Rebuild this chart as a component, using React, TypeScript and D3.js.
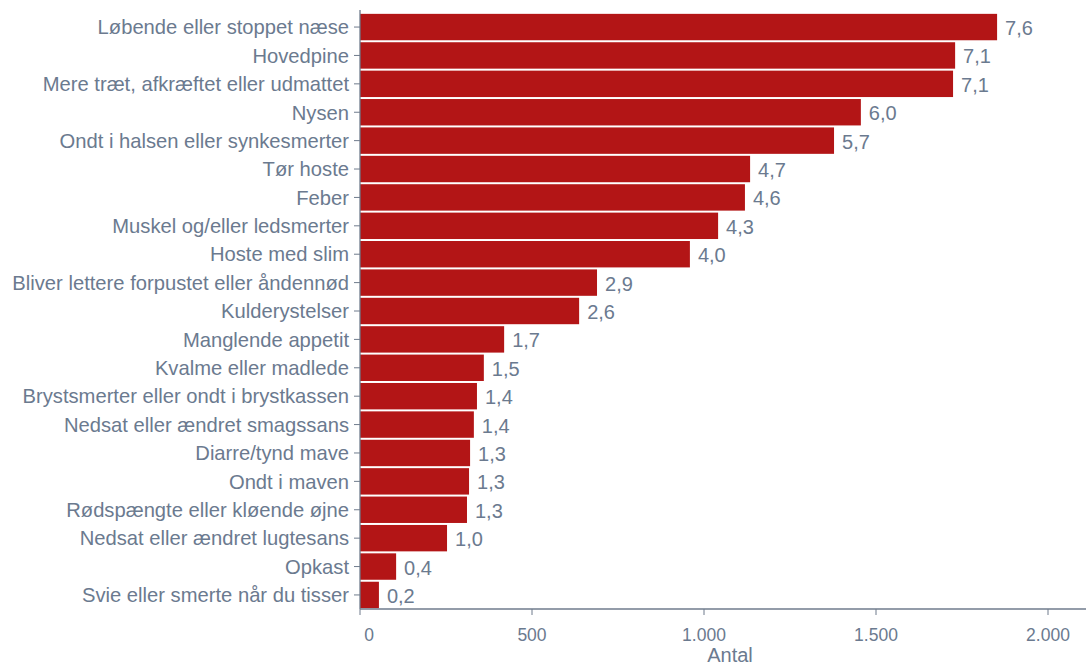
import React from "react";
import * as d3 from "d3";

const categories = [
  "Løbende eller stoppet næse",
  "Hovedpine",
  "Mere træt, afkræftet eller udmattet",
  "Nysen",
  "Ondt i halsen eller synkesmerter",
  "Tør hoste",
  "Feber",
  "Muskel og/eller ledsmerter",
  "Hoste med slim",
  "Bliver lettere forpustet eller åndennød",
  "Kulderystelser",
  "Manglende appetit",
  "Kvalme eller madlede",
  "Brystsmerter eller ondt i brystkassen",
  "Nedsat eller ændret smagssans",
  "Diarre/tynd mave",
  "Ondt i maven",
  "Rødspængte eller kløende øjne",
  "Nedsat eller ændret lugtesans",
  "Opkast",
  "Svie eller smerte når du tisser",
];

const counts = [1852, 1730, 1724, 1456, 1378, 1134, 1119, 1041, 959, 689, 637, 419, 360, 340, 331, 320, 317, 311, 253, 105, 55];
const percents = [7.6, 7.1, 7.1, 6.0, 5.7, 4.7, 4.6, 4.3, 4.0, 2.9, 2.6, 1.7, 1.5, 1.4, 1.4, 1.3, 1.3, 1.3, 1.0, 0.4, 0.2];
const xTicks = [0, 500, 1000, 1500, 2000];
const xTitle = "Antal";

const W = 1086;
const H = 667;
const left = 360;
const top = 13;
const bottom = 609;
const textColor = "#6b7a8f";
const axisColor = "#6f7b8c";
const barColor = "#b31516";

const fmt = (v: number) => d3.format(",")(v).replace(/,/g, ".");

export default function App() {
  const x = d3.scaleLinear().domain([0, 2000]).range([left, 1048]);
  const y = d3.scaleBand<string>().domain(categories).range([top, bottom]).paddingInner(0.07).paddingOuter(0.03);
  const font = "'Liberation Sans', Arial, sans-serif";
  return (
    <svg width={W} height={H} style={{ position: "absolute", left: 0, top: 0, background: "#fff" }} fontFamily={font}>
      {categories.map((c, i) => {
        const yy = y(c)!;
        const bw = y.bandwidth();
        return (
          <g key={c}>
            <rect x={x(0)} y={yy} width={x(counts[i]) - x(0)} height={bw} fill={barColor} />
            <text x={left - 11} y={yy + bw / 2} dy="0.36em" textAnchor="end" fontSize={20.2} fill={textColor}>{c}</text>
            <line x1={left - 6} x2={left} y1={yy + bw / 2} y2={yy + bw / 2} stroke={axisColor} strokeWidth={1} />
            <text x={x(counts[i]) + 8} y={yy + bw / 2} dy="0.4em" fontSize={20} fill={textColor}>{percents[i].toFixed(1).replace(".", ",")}</text>
          </g>
        );
      })}
      <line x1={left} x2={left} y1={10} y2={bottom} stroke={axisColor} strokeWidth={1.3} />
      <line x1={left} x2={W} y1={bottom} y2={bottom} stroke={axisColor} strokeWidth={1.3} />
      {xTicks.map((t) => (
        <g key={t}>
          <line x1={x(t)} x2={x(t)} y1={bottom} y2={bottom + 6} stroke={axisColor} strokeWidth={1} />
          <text x={x(t) + (t === 0 ? 9 : 0)} y={bottom + 32} textAnchor="middle" fontSize={17.5} fill={textColor}>{fmt(t)}</text>
        </g>
      ))}
      <text x={730} y={662} textAnchor="middle" fontSize={20} fill={textColor}>{xTitle}</text>
    </svg>
  );
}
